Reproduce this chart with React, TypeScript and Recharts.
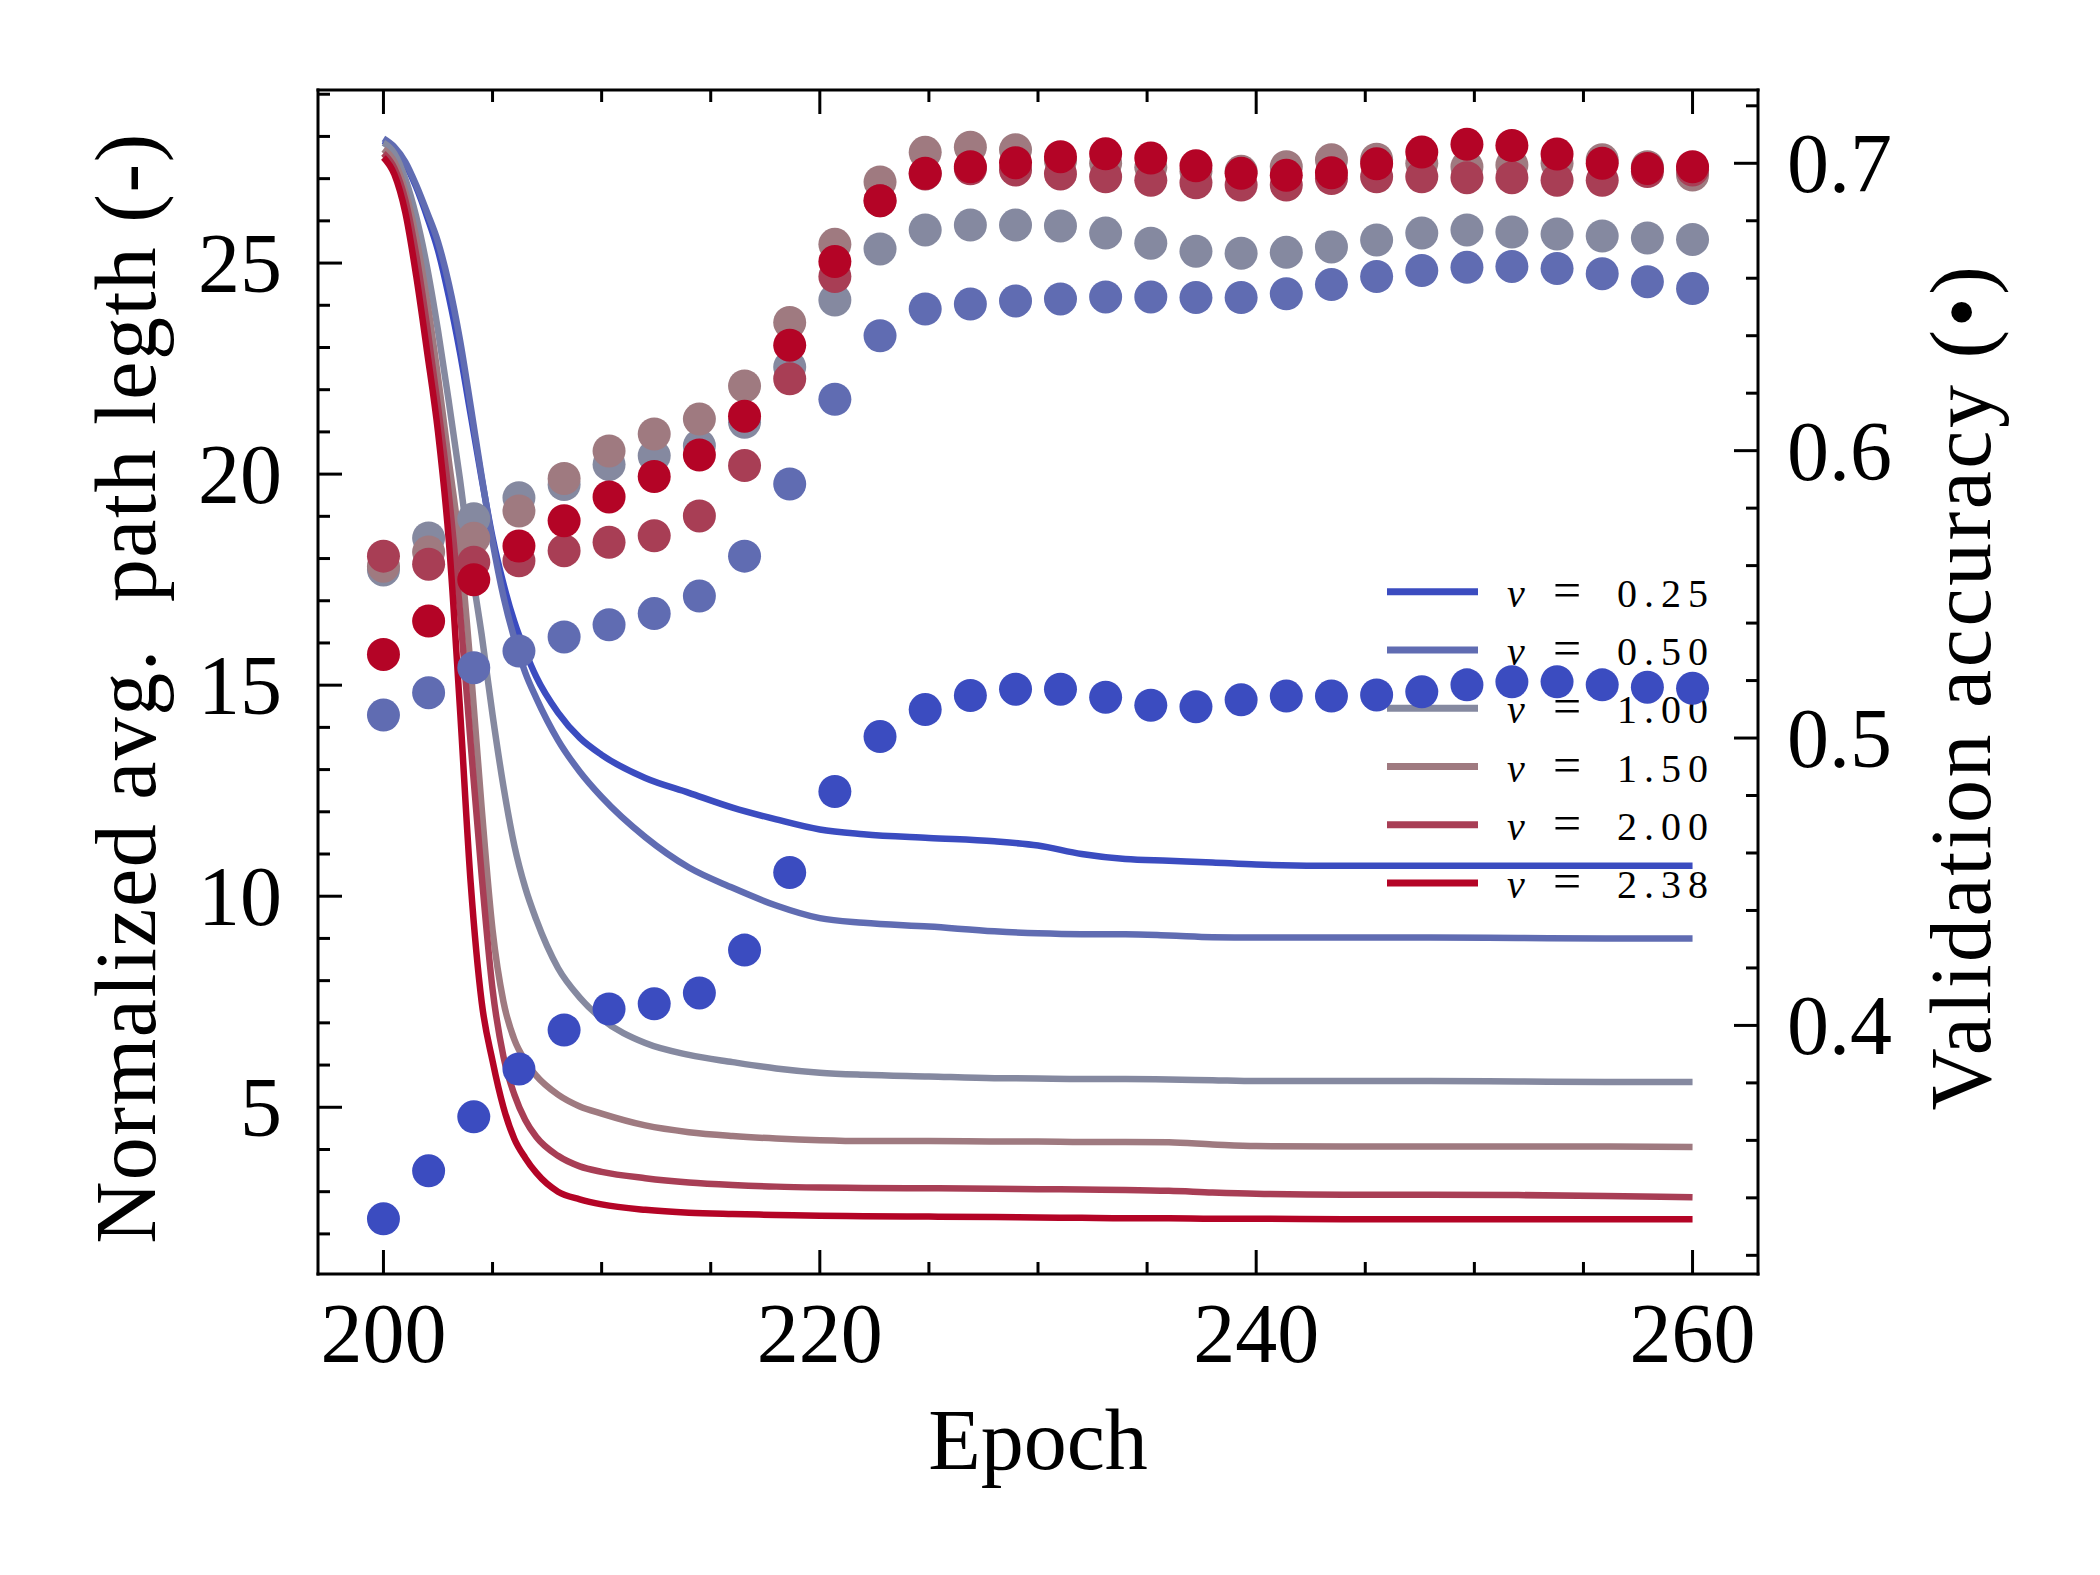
import React from "react";
import { ComposedChart, Line, Scatter, XAxis, YAxis } from "recharts";

const FONT = '"Liberation Serif", "DejaVu Serif", serif';

// one entry per nu value, blue -> red
const NU_LABELS = ["0.25", "0.50", "1.00", "1.50", "2.00", "2.38"];
const COLORS = ["#3b4cc0", "#606cb2", "#8589a0", "#9f7a80", "#a83e55", "#b40426"];

// path length curves (left axis)
const LINE_EPOCHS = [
  200, 200.5, 201, 201.5, 202, 202.5, 203, 203.5, 204, 204.5, 205, 205.5, 206, 206.5, 207, 208, 209, 210,
  212, 214, 216, 218, 220, 222, 225, 228, 230, 232, 234, 236, 238, 240, 244, 248, 252, 256, 260,
];
const PATH_025 = [
  27.9, 27.7, 27.35, 26.8, 26.1, 25.3, 24.2, 22.9, 21.4, 19.9, 18.5, 17.4, 16.5, 15.8, 15.2, 14.35, 13.75, 13.35,
  12.8, 12.45, 12.1, 11.82, 11.58, 11.47, 11.38, 11.3, 11.2, 11.0, 10.88, 10.84, 10.8, 10.75, 10.72, 10.72, 10.72, 10.72, 10.72,
];
const PATH_050 = [
  27.95, 27.75, 27.4, 26.85, 26.2, 25.5, 24.5, 23.2, 21.6, 19.95, 18.4, 17.1, 16.1, 15.3, 14.7, 13.7, 12.95, 12.35,
  11.4, 10.68, 10.2, 9.78, 9.48, 9.37, 9.28, 9.17, 9.12, 9.1, 9.1, 9.07, 9.03, 9.02, 9.02, 9.02, 9.01, 9.0, 9.0,
];
const PATH_100 = [
  27.85, 27.6, 27.0, 26.1, 24.9, 23.4, 21.7, 19.9, 17.9, 16.2, 14.3, 12.6, 11.2, 10.2, 9.45, 8.3, 7.6, 7.1,
  6.52, 6.24, 6.07, 5.92, 5.82, 5.77, 5.73, 5.69, 5.68, 5.67, 5.67, 5.66, 5.64, 5.62, 5.62, 5.62, 5.61, 5.6, 5.6,
];
const PATH_150 = [
  27.7, 27.4, 26.7, 25.6, 24.1, 22.3, 20.3, 18.3, 15.4, 12.1, 9.2, 7.5, 6.6, 6.1, 5.75, 5.3, 5.02, 4.85,
  4.57, 4.41, 4.32, 4.26, 4.22, 4.2, 4.2, 4.19, 4.19, 4.18, 4.18, 4.17, 4.12, 4.08, 4.07, 4.07, 4.07, 4.07, 4.06,
];
const PATH_200 = [
  27.6, 27.25, 26.5, 25.2, 23.5, 21.6, 19.5, 16.8, 13.6, 10.5, 7.8, 6.2, 5.3, 4.7, 4.3, 3.85, 3.6, 3.47,
  3.32, 3.22, 3.16, 3.12, 3.1, 3.09, 3.08, 3.07, 3.06, 3.05, 3.04, 3.02, 2.98, 2.95, 2.93, 2.93, 2.92, 2.9, 2.87,
];
const PATH_238 = [
  27.5, 27.1, 26.2, 24.7, 22.9, 21.0, 18.4, 14.5, 10.3, 7.5, 6.1, 5.0, 4.25, 3.8, 3.45, 3.0, 2.82, 2.7,
  2.57, 2.5, 2.47, 2.45, 2.43, 2.42, 2.41, 2.4, 2.39, 2.38, 2.37, 2.37, 2.36, 2.36, 2.35, 2.35, 2.35, 2.35, 2.35,
];

// validation accuracy dots (right axis)
const ACC_EPOCHS = [
  200, 202.07, 204.14, 206.21, 208.28, 210.34, 212.41, 214.48, 216.55, 218.62, 220.69, 222.76, 224.83, 226.9, 228.97,
  231.03, 233.1, 235.17, 237.24, 239.31, 241.38, 243.45, 245.52, 247.59, 249.66, 251.72, 253.79, 255.86, 257.93, 260,
];
const ACC_025 = [
  0.3327, 0.3494, 0.3682, 0.3848, 0.3984, 0.4057, 0.4075, 0.4113, 0.4262, 0.4532, 0.4814, 0.5005, 0.5099, 0.5148, 0.517,
  0.517, 0.5142, 0.5114, 0.5109, 0.5133, 0.5146, 0.5146, 0.515, 0.5161, 0.5185, 0.5196, 0.5196, 0.5185, 0.5177, 0.5173,
];
const ACC_050 = [
  0.508, 0.5158, 0.5245, 0.5303, 0.5352, 0.5394, 0.5433, 0.5494, 0.5633, 0.5884, 0.6179, 0.64, 0.6493, 0.651, 0.6521,
  0.6528, 0.6535, 0.6535, 0.6533, 0.6533, 0.6546, 0.6578, 0.6606, 0.6627, 0.6638, 0.6641, 0.6634, 0.6616, 0.6588, 0.6564,
];
const ACC_100 = [
  0.5585, 0.5696, 0.5763, 0.5836, 0.5882, 0.5952, 0.5982, 0.6017, 0.6099, 0.6291, 0.6524, 0.6702, 0.6768, 0.6785, 0.6785,
  0.6782, 0.6757, 0.6722, 0.6694, 0.6687, 0.669, 0.6709, 0.6733, 0.6757, 0.6768, 0.6761, 0.6754, 0.6747, 0.674, 0.6735,
];
const ACC_150 = [
  0.5598, 0.5647, 0.5695, 0.579, 0.5903, 0.5999, 0.6058, 0.611, 0.6225, 0.6446, 0.6718, 0.6935, 0.7038, 0.7056, 0.7047,
  0.7009, 0.7, 0.6986, 0.6972, 0.6972, 0.6988, 0.7012, 0.7014, 0.7, 0.6988, 0.6994, 0.7, 0.7012, 0.6988, 0.6959,
];
const ACC_200 = [
  0.5633, 0.5605, 0.5612, 0.5617, 0.5652, 0.5681, 0.5704, 0.5773, 0.5948, 0.625, 0.6606, 0.687, 0.6963, 0.6981, 0.6977,
  0.6963, 0.6953, 0.6941, 0.6932, 0.6924, 0.6924, 0.6947, 0.6953, 0.6953, 0.695, 0.695, 0.6941, 0.6941, 0.6971, 0.6977,
];
const ACC_238 = [
  0.5291, 0.5407, 0.5551, 0.5668, 0.5756, 0.5839, 0.591, 0.5985, 0.612, 0.6367, 0.6658, 0.687, 0.6965, 0.6988, 0.7002,
  0.7023, 0.7033, 0.7018, 0.6991, 0.6965, 0.6958, 0.6967, 0.6998, 0.7039, 0.7066, 0.7062, 0.7032, 0.7, 0.6982, 0.6988,
];

const X_TICKS = [200, 205, 210, 215, 220, 225, 230, 235, 240, 245, 250, 255, 260];
const LEFT_TICKS = [2, 3, 4, 5, 6, 7, 8, 9, 10, 11, 12, 13, 14, 15, 16, 17, 18, 19, 20, 21, 22, 23, 24, 25, 26, 27, 28, 29];
const RIGHT_TICKS = [
  0.32, 0.34, 0.36, 0.38, 0.4, 0.42, 0.44, 0.46, 0.48, 0.5, 0.52, 0.54, 0.56, 0.58, 0.6, 0.62, 0.64, 0.66, 0.68, 0.7, 0.72,
];

const PATHS = [PATH_025, PATH_050, PATH_100, PATH_150, PATH_200, PATH_238];
const ACCS = [ACC_025, ACC_050, ACC_100, ACC_150, ACC_200, ACC_238];

const lineData = PATHS.map((vals) => LINE_EPOCHS.map((ep, i) => ({ ep, val: vals[i] })));
const accData = ACCS.map((vals) => ACC_EPOCHS.map((ep, i) => ({ ep, acc: vals[i] })));

const AXIS = { stroke: "#000", strokeWidth: 3, strokeLinecap: "square" as const };
const MAJOR = 24;
const MINOR = 12;

function BottomTick({ x, y, payload }: any) {
  const v = payload.value;
  const major = v % 20 === 0;
  return (
    <g>
      <line x1={x} x2={x} y1={y} y2={y - (major ? MAJOR : MINOR)} stroke="#000" strokeWidth={3} />
      {major && (
        <text x={x} y={y + 88} textAnchor="middle" fontFamily={FONT} fontSize={84} fill="#000">
          {v}
        </text>
      )}
    </g>
  );
}

function TopTick({ x, y, payload }: any) {
  const major = payload.value % 20 === 0;
  return <line x1={x} x2={x} y1={y} y2={y + (major ? MAJOR : MINOR)} stroke="#000" strokeWidth={3} />;
}

function LeftTick({ x, y, payload }: any) {
  const v = payload.value;
  const major = v % 5 === 0;
  return (
    <g>
      <line x1={x} x2={x + (major ? MAJOR : MINOR)} y1={y} y2={y} stroke="#000" strokeWidth={3} />
      {major && (
        <text x={x - 36} y={y + 29} textAnchor="end" fontFamily={FONT} fontSize={84} fill="#000">
          {v}
        </text>
      )}
    </g>
  );
}

function RightTick({ x, y, payload }: any) {
  const v = payload.value;
  const major = Math.abs(v * 10 - Math.round(v * 10)) < 1e-6;
  return (
    <g>
      <line x1={x} x2={x - (major ? MAJOR : MINOR)} y1={y} y2={y} stroke="#000" strokeWidth={3} />
      {major && (
        <text x={x + 29} y={y + 29} textAnchor="start" fontFamily={FONT} fontSize={84} fill="#000">
          {v.toFixed(1)}
        </text>
      )}
    </g>
  );
}

// legend + axis titles sit underneath the plot, like the twin-axis original
function Backdrop() {
  const rows = [591.7, 650, 708.3, 766.5, 824.8, 883];
  return (
    <svg
      width={2100}
      height={1575}
      style={{ position: "absolute", left: 0, top: 0, zIndex: -1 }}
    >
      {NU_LABELS.map((label, k) => (
        <g key={label}>
          <line x1={1387} x2={1478} y1={rows[k]} y2={rows[k]} stroke={COLORS[k]} strokeWidth={7} />
          <text y={rows[k] + 15} fontFamily={FONT} fontSize={40} fill="#000">
            <tspan x={1507} fontStyle="italic">ν</tspan>
            <tspan x={1553} fontSize={50}>=</tspan>
            <tspan x={1617} letterSpacing={7}>{label}</tspan>
          </text>
        </g>
      ))}
      <text
        transform="translate(125,688) rotate(-90)"
        textAnchor="middle"
        dy="0.35em"
        fontFamily={FONT}
        fontSize={86}
        letterSpacing={1.5}
        fill="#000"
      >
        {"Normalized avg.\u00a0 path legth (-)"}
      </text>
      <text
        transform="translate(1960,687) rotate(-90)"
        textAnchor="middle"
        dy="0.35em"
        fontFamily={FONT}
        fontSize={86}
        letterSpacing={2.5}
        fill="#000"
      >
        {"Validation accuracy (\u2022)"}
      </text>
      <text x={1038} y={1469} textAnchor="middle" fontFamily={FONT} fontSize={86} fill="#000">
        Epoch
      </text>
    </svg>
  );
}

export default function App() {
  return (
    <div
      style={{
        position: "absolute",
        left: 0,
        top: 0,
        width: 2100,
        height: 1575,
        background: "#fff",
        zIndex: 0,
        overflow: "hidden",
      }}
    >
      <Backdrop />
      <ComposedChart width={2100} height={1575} margin={{ top: 60, right: 0, bottom: 0, left: 0 }}>
        <XAxis
          xAxisId="b"
          dataKey="ep"
          type="number"
          domain={[197, 263]}
          allowDataOverflow
          ticks={X_TICKS}
          interval={0}
          tickLine={false}
          tickSize={0}
          tickMargin={0}
          height={301}
          axisLine={AXIS}
          tick={<BottomTick />}
        />
        <XAxis
          xAxisId="t"
          orientation="top"
          dataKey="ep"
          type="number"
          domain={[197, 263]}
          allowDataOverflow
          ticks={X_TICKS}
          interval={0}
          tickLine={false}
          tickSize={0}
          tickMargin={0}
          height={30}
          axisLine={AXIS}
          tick={<TopTick />}
        />
        <YAxis
          yAxisId="l"
          orientation="left"
          dataKey="val"
          type="number"
          domain={[1.05, 29.1]}
          allowDataOverflow
          ticks={LEFT_TICKS}
          interval={0}
          tickLine={false}
          tickSize={0}
          tickMargin={0}
          width={318}
          axisLine={AXIS}
          tick={<LeftTick />}
        />
        <YAxis
          yAxisId="r"
          orientation="right"
          dataKey="acc"
          type="number"
          domain={[0.3135, 0.7255]}
          allowDataOverflow
          ticks={RIGHT_TICKS}
          interval={0}
          tickLine={false}
          tickSize={0}
          tickMargin={0}
          width={342}
          axisLine={AXIS}
          tick={<RightTick />}
        />

        {lineData.map((d, k) => (
          <Line
            key={`line-${k}`}
            xAxisId="b"
            yAxisId="l"
            data={d}
            dataKey="val"
            type="monotone"
            stroke={COLORS[k]}
            strokeWidth={6.5}
            dot={false}
            activeDot={false}
            isAnimationActive={false}
          />
        ))}

        {accData.map((d, k) => (
          <Scatter
            key={`acc-${k}`}
            xAxisId="b"
            yAxisId="r"
            data={d}
            dataKey="acc"
            fill={COLORS[k]}
            shape={(p: any) => <circle cx={p.cx} cy={p.cy} r={16.5} fill={COLORS[k]} />}
            isAnimationActive={false}
          />
        ))}
      </ComposedChart>
    </div>
  );
}
